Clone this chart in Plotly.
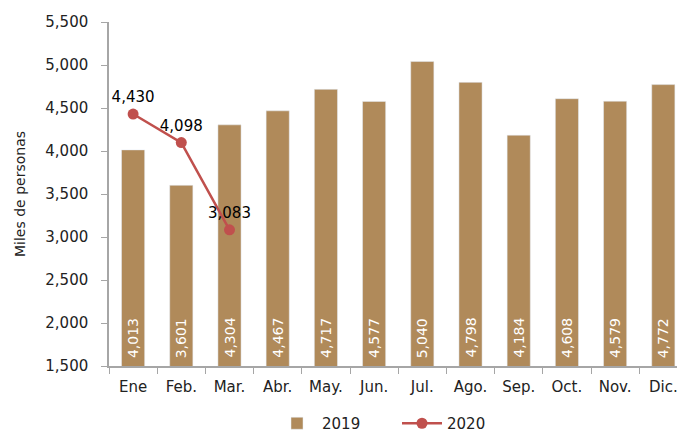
import plotly.graph_objects as go

meses = ["Ene", "Feb.", "Mar.", "Abr.", "May.", "Jun.", "Jul.", "Ago.", "Sep.", "Oct.", "Nov.", "Dic."]
v2019 = [4013, 3601, 4304, 4467, 4717, 4577, 5040, 4798, 4184, 4608, 4579, 4772]
v2020 = [4430, 4098, 3083]

fuente = "DejaVu Sans, sans-serif"

fig = go.Figure()
fig.add_trace(go.Bar(
    x=meses, y=v2019, name="2019",
    marker_color="#B08A5A", width=0.48,
))
fig.add_trace(go.Scatter(
    x=meses[:3], y=v2020, name="2020", mode="lines+markers+text",
    line=dict(color="#C0504D", width=2.5),
    marker=dict(color="#C0504D", size=11),
    text=[f"{v:,}" for v in v2020],
    textposition="top center",
    textfont=dict(color="black", size=15, family=fuente),
))

# etiquetas verticales dentro de las barras (el eje empieza en 1,500)
for m, v in zip(meses, v2019):
    fig.add_annotation(x=m, y=1500, text=f"{v:,}", textangle=-90,
                       showarrow=False, yanchor="bottom", yshift=6,
                       font=dict(color="white", size=14, family=fuente))

fig.update_layout(
    width=677, height=432,
    margin=dict(l=101, r=0, t=14, b=73),
    plot_bgcolor="white", paper_bgcolor="white",
    font=dict(family=fuente, size=14, color="#222"),
    showlegend=True,
    legend=dict(orientation="h", x=0.5, xanchor="center", y=-0.168, yanchor="middle",
                font=dict(size=15), itemwidth=40, entrywidth=70),
    xaxis=dict(
        range=[-0.5, 11.45], showline=True, linecolor="#A6A6A6", linewidth=1.5,
        ticks="outside", tickson="boundaries", ticklen=6, tickcolor="#A6A6A6",
        showgrid=False, tickfont=dict(size=15), ticklabelstandoff=6,
    ),
    yaxis=dict(
        range=[1500, 5500], dtick=500, tickformat=",",
        showline=True, linecolor="#A6A6A6", linewidth=1.5,
        ticks="outside", ticklen=6, tickcolor="#A6A6A6",
        showgrid=False, zeroline=False, tickfont=dict(size=15),
        ticklabelstandoff=10,
        title=dict(text="Miles de personas", font=dict(size=14), standoff=16),
    ),
)

fig.write_html("out.html")
